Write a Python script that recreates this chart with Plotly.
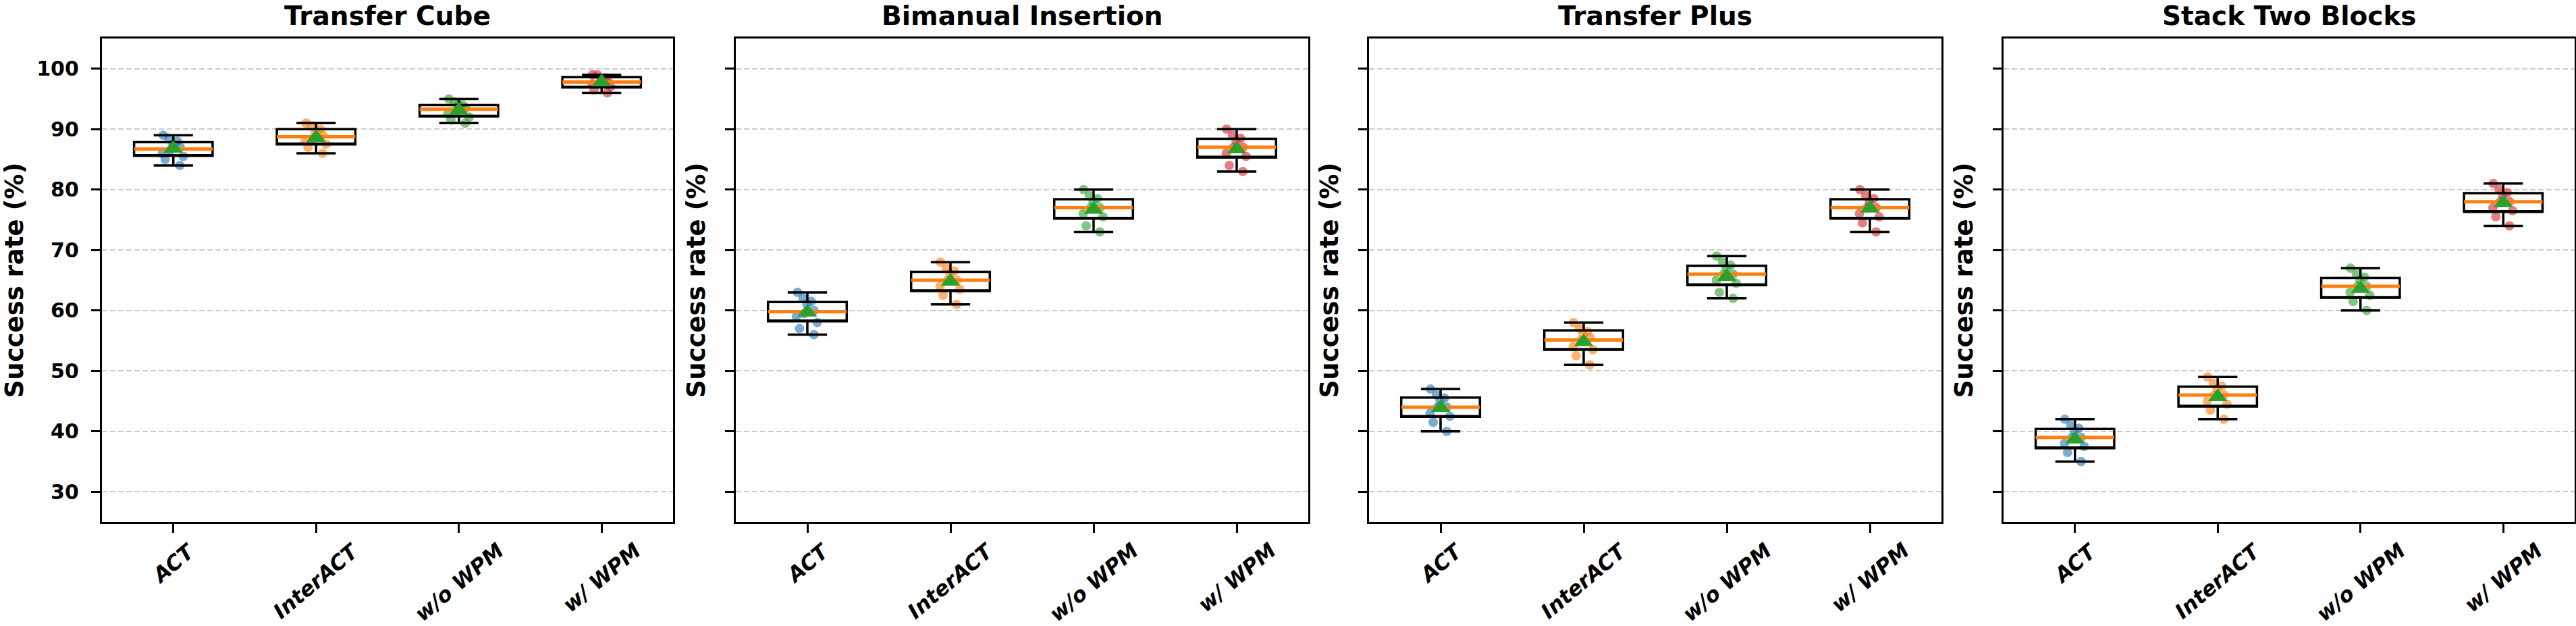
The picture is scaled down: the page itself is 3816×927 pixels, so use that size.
import plotly.graph_objects as go

# ---------------- data ----------------
methods = ["ACT", "InterACT", "w/o WPM", "w/ WPM"]
tasks = ["Transfer Cube", "Bimanual Insertion", "Transfer Plus", "Stack Two Blocks"]

# per-run success rates (points), one list per method
tc_samples = [
    [84.0, 85.0, 85.5, 86.0, 86.5, 87.0, 87.5, 88.0, 88.5, 89.0],
    [86.0, 87.0, 87.5, 88.0, 88.5, 89.0, 89.5, 90.0, 90.5, 91.0],
    [91.0, 91.5, 92.0, 92.5, 93.0, 93.5, 94.0, 94.0, 94.5, 95.0],
    [96.0, 96.5, 97.0, 97.5, 97.5, 98.0, 98.0, 98.5, 99.0, 99.0],
]
bi_samples = [
    [56.0, 57.0, 58.0, 59.0, 59.5, 60.0, 61.0, 61.5, 62.0, 63.0],
    [61.0, 62.5, 63.5, 64.0, 65.0, 65.0, 66.0, 66.5, 67.0, 68.0],
    [73.0, 74.0, 75.5, 76.0, 77.0, 77.0, 78.0, 78.5, 79.0, 80.0],
    [83.0, 84.0, 85.5, 86.0, 87.0, 87.0, 88.0, 88.5, 89.0, 90.0],
]
tp_samples = [
    [40.0, 41.5, 42.5, 43.0, 44.0, 44.0, 45.0, 45.5, 46.0, 47.0],
    [51.0, 52.5, 53.5, 54.0, 55.0, 55.5, 56.0, 56.5, 57.0, 58.0],
    [62.0, 63.0, 64.5, 65.0, 66.0, 66.0, 67.0, 67.5, 68.0, 69.0],
    [73.0, 74.5, 75.5, 76.0, 77.0, 77.0, 78.0, 78.5, 79.0, 80.0],
]
stb_samples = [
    [35.0, 36.5, 37.5, 38.0, 39.0, 39.0, 40.0, 40.5, 41.0, 42.0],
    [42.0, 43.5, 44.5, 45.0, 46.0, 46.0, 47.0, 47.5, 48.0, 49.0],
    [60.0, 61.5, 62.5, 63.0, 64.0, 64.0, 65.0, 65.5, 66.0, 67.0],
    [74.0, 75.5, 76.5, 77.0, 78.0, 78.0, 79.0, 79.5, 80.0, 81.0],
]

# box statistics
tc_min = [84.0, 86.0, 91.0, 96.0]
tc_q1 = [85.6, 87.5, 92.1, 96.9]
tc_med = [86.7, 88.75, 93.3, 97.8]
tc_q3 = [87.85, 90.0, 94.0, 98.6]
tc_max = [89.0, 91.0, 95.0, 99.0]
tc_mean = [86.8, 88.6, 93.1, 97.8]

bi_min = [56.0, 61.0, 73.0, 83.0]
bi_q1 = [58.2, 63.2, 75.2, 85.3]
bi_med = [59.8, 65.0, 77.0, 87.0]
bi_q3 = [61.4, 66.4, 78.4, 88.4]
bi_max = [63.0, 68.0, 80.0, 90.0]
bi_mean = [59.7, 64.8, 76.7, 86.7]

tp_min = [40.0, 51.0, 62.0, 73.0]
tp_q1 = [42.4, 53.5, 64.2, 75.2]
tp_med = [44.0, 55.1, 66.0, 77.0]
tp_q3 = [45.6, 56.7, 67.4, 78.4]
tp_max = [47.0, 58.0, 69.0, 80.0]
tp_mean = [43.9, 54.8, 65.6, 76.9]

stb_min = [35.0, 42.0, 60.0, 74.0]
stb_q1 = [37.2, 44.1, 62.1, 76.3]
stb_med = [39.0, 46.0, 64.0, 78.0]
stb_q3 = [40.4, 47.4, 65.4, 79.4]
stb_max = [42.0, 49.0, 67.0, 81.0]
stb_mean = [38.7, 45.7, 63.6, 77.8]

y_ticks = [30, 40, 50, 60, 70, 80, 90, 100]
y_range = [25, 105]

# ---------------- style ----------------
W, H = 3816, 927
FONT = "DejaVu Sans"
point_colors = ["rgba(31,119,180,0.6)", "rgba(255,127,14,0.6)",
                "rgba(44,160,44,0.6)", "rgba(214,39,40,0.6)"]
panel_px = [(151, 997), (1090, 1938), (2028, 2876), (2968, 3814)]
top_px, bottom_px = 57, 773
xlabel_top_px = 795

panels = [
    (tc_samples, tc_min, tc_q1, tc_med, tc_q3, tc_max, tc_mean),
    (bi_samples, bi_min, bi_q1, bi_med, bi_q3, bi_max, bi_mean),
    (tp_samples, tp_min, tp_q1, tp_med, tp_q3, tp_max, tp_mean),
    (stb_samples, stb_min, stb_q1, stb_med, stb_q3, stb_max, stb_mean),
]

fig = go.Figure()
BOXW = 0.55

for p, (samples, mn, q1, med, q3, mx, mean) in enumerate(panels):
    xa = "x" if p == 0 else f"x{p+1}"
    ya = "y" if p == 0 else f"y{p+1}"
    # jittered points (box hidden)
    for i, m in enumerate(methods):
        fig.add_trace(go.Box(
            x=[m] * len(samples[i]), y=samples[i], xaxis=xa, yaxis=ya,
            boxpoints="all", jitter=0.35, pointpos=0, width=BOXW,
            line=dict(width=0, color="rgba(0,0,0,0)"), fillcolor="rgba(0,0,0,0)",
            marker=dict(color=point_colors[i], size=14, line=dict(width=0)),
            whiskerwidth=0, hoverinfo="skip", showlegend=False,
        ))
    # box + whiskers
    fig.add_trace(go.Box(
        x=methods, q1=q1, median=q1, q3=q3, lowerfence=mn, upperfence=mx,
        xaxis=xa, yaxis=ya, width=BOXW, boxpoints=False, whiskerwidth=0.5,
        line=dict(color="black", width=3.5), fillcolor="rgba(0,0,0,0)",
        showlegend=False,
    ))
    # median line
    fig.add_trace(go.Box(
        x=methods, q1=med, median=med, q3=med, lowerfence=med, upperfence=med,
        xaxis=xa, yaxis=ya, width=BOXW, boxpoints=False, whiskerwidth=0,
        line=dict(color="#ff7f0e", width=5), fillcolor="rgba(0,0,0,0)",
        showlegend=False,
    ))
    # mean marker
    fig.add_trace(go.Scatter(
        x=methods, y=mean, xaxis=xa, yaxis=ya, mode="markers",
        marker=dict(symbol="triangle-up", color="#2ca02c", size=25, line=dict(width=0)),
        showlegend=False,
    ))

layout = dict(
    width=W, height=H, margin=dict(l=0, r=0, t=0, b=0, autoexpand=False),
    paper_bgcolor="white", plot_bgcolor="white", boxmode="overlay",
    showlegend=False, font=dict(family=FONT, color="black"),
)
annotations = []
for p, (x0, x1) in enumerate(panel_px):
    xk = "xaxis" if p == 0 else f"xaxis{p+1}"
    yk = "yaxis" if p == 0 else f"yaxis{p+1}"
    ya_name = "y" if p == 0 else f"y{p+1}"
    xa_name = "x" if p == 0 else f"x{p+1}"
    layout[xk] = dict(
        domain=[x0 / W, x1 / W], anchor=ya_name, type="category",
        categoryorder="array", categoryarray=methods, range=[-0.5, 3.5],
        showline=True, linecolor="black", linewidth=3.3, mirror=True,
        ticks="outside", ticklen=13, tickwidth=3.3, tickcolor="black",
        showticklabels=False, automargin=False,
        showgrid=False, zeroline=False,
    )
    layout[yk] = dict(
        domain=[1 - bottom_px / H, 1 - top_px / H], anchor=xa_name,
        range=y_range, tickmode="array", tickvals=y_ticks,
        showticklabels=(p == 0), ticklabelstandoff=12, automargin=False,
        showline=True, linecolor="black", linewidth=3.3, mirror=True,
        ticks="outside", ticklen=13, tickwidth=3.3, tickcolor="black",
        tickfont=dict(family=FONT, size=30, weight="bold"),
        showgrid=True, gridcolor="#cccccc", gridwidth=2, griddash="8px,4px",
        zeroline=False,
        title=dict(text="Success rate (%)", standoff=18,
                   font=dict(family=FONT, size=37, weight="bold")),
    )
    # panel title
    annotations.append(dict(
        text=tasks[p], x=(x0 + x1) / 2 / W, y=1 - 23 / H, xref="paper", yref="paper",
        xanchor="center", yanchor="middle", showarrow=False,
        font=dict(family=FONT, size=39, weight="bold", color="black"),
    ))
    # rotated category labels, centred under each tick
    for m in methods:
        annotations.append(dict(
            text=m, x=m, y=1 - xlabel_top_px / H, xref=xa_name, yref="paper",
            xanchor="center", yanchor="top", showarrow=False, textangle=-40,
            borderpad=0,
            font=dict(family=FONT, size=31, weight="bold", style="italic", color="black"),
        ))
layout["annotations"] = annotations
fig.update_layout(**layout)

fig.write_html("out.html")
